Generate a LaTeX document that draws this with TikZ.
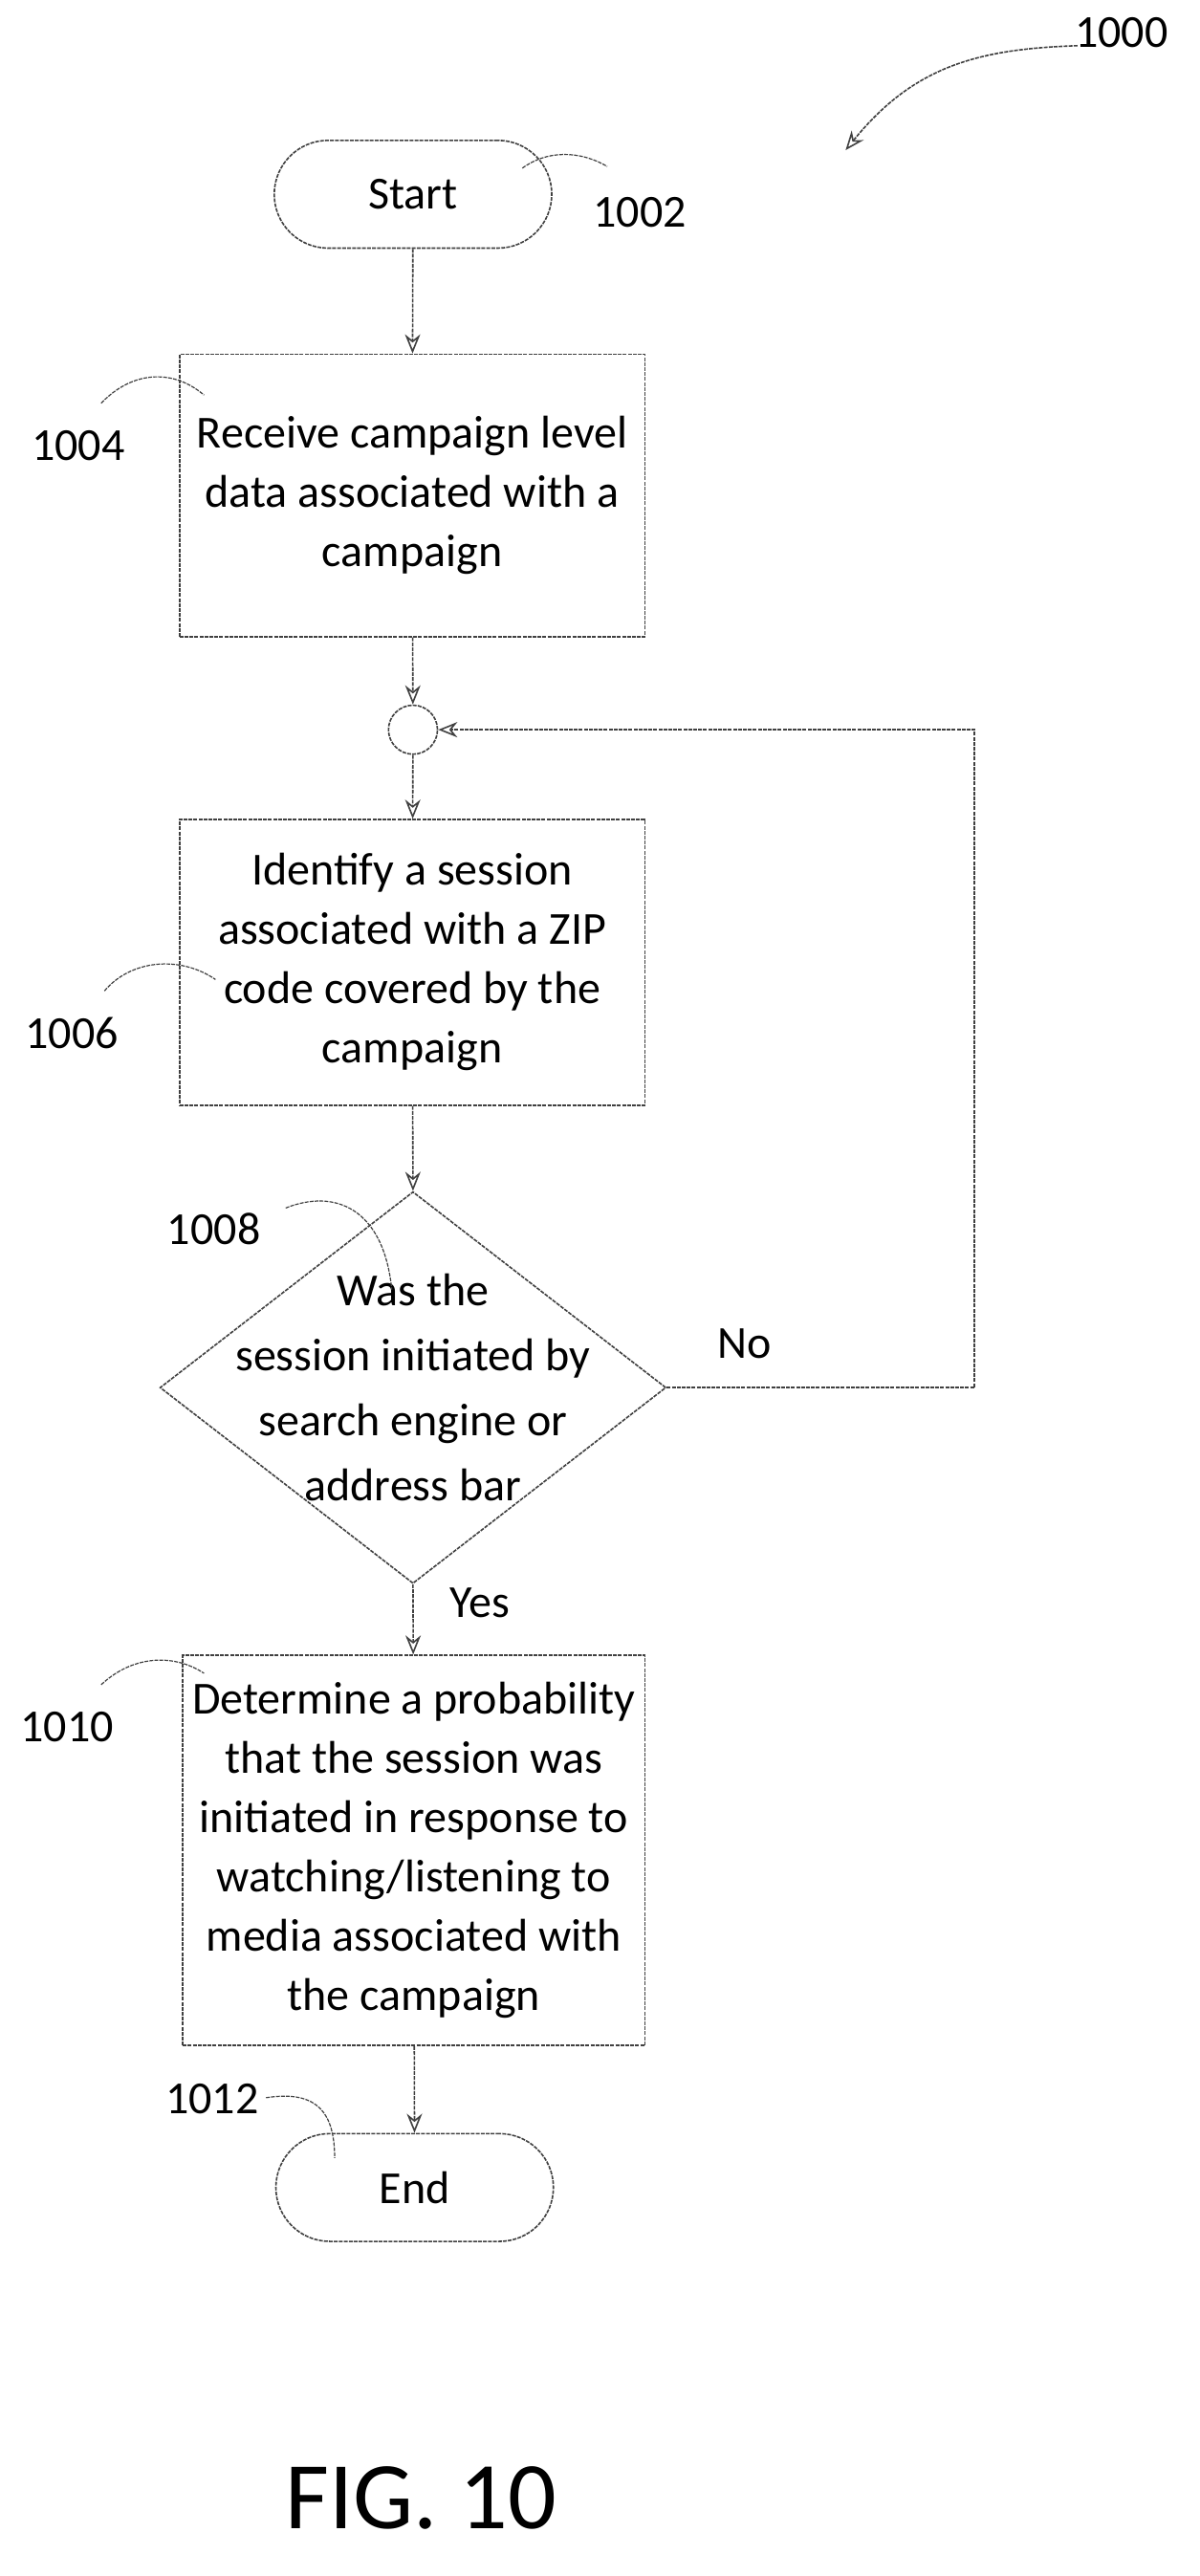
\documentclass[tikz,border=0pt]{standalone}
\usepackage{fontspec}
\setmainfont{Carlito}
\usetikzlibrary{arrows.meta,shapes.geometric}
\begin{document}
\begin{tikzpicture}[x=0.03cm,y=-0.03cm,
  ln/.style={draw=black!75, line width=0.8pt, dash pattern=on 2pt off 0.6pt},
  arr/.style={ln, -{Stealth[length=10pt,width=8pt,open]}},
  box/.style={ln, rectangle, align=center, font=\fontsize{24}{31}\selectfont, inner sep=2pt},
  term/.style={ln, rounded corners=0.99cm, minimum width=5.1cm, minimum height=1.98cm, font=\fontsize{24}{30}\selectfont},
  lab/.style={font=\fontsize{24}{30}\selectfont},
  lead/.style={draw=black!75, line width=0.6pt, dash pattern=on 2pt off 0.6pt}]
\useasboundingbox (0,0) rectangle (735,1578);
\node[term] (start) at (253,119) {Start};
\node[box, minimum width=8.55cm, minimum height=5.19cm] (b1) at (252.5,303.5) {Receive campaign level\\data associated with a\\campaign};
\node[ln, circle, minimum size=0.9cm, inner sep=0pt] (c) at (253,447) {};
\node[box, minimum width=8.55cm, minimum height=5.25cm] (b2) at (252.5,589.5) {Identify a session\\associated with a ZIP\\code covered by the\\campaign};
\node[ln, diamond, aspect=1.29, minimum width=9.3cm, minimum height=7.2cm, inner sep=0pt] (d) at (253,850) {};
\node[align=center, font=\fontsize{24}{34}\selectfont] (dt) at (253,850) {Was the\\session initiated by\\search engine or\\address bar};
\node[box, minimum width=8.49cm, minimum height=7.17cm] (b3) at (253.5,1133.5) {Determine a probability\\that the session was\\initiated in response to\\watching/listening to\\media associated with\\the campaign};
\node[term] (end) at (254,1340) {End};
\coordinate (lp1) at (597,850);
\coordinate (lp2) at (597,447);
\draw[arr] (start) -- (b1);
\draw[arr] (b1) -- (c);
\draw[arr] (c) -- (b2);
\draw[arr] (b2) -- (d.north);
\draw[arr] (d.south) -- (b3);
\draw[arr] (b3) -- (end);
\draw[arr] (d.east) -- (lp1) -- (lp2) -- (c.east);
\node[lab] (no) at (456,823) {No};
\node[lab] (yes) at (294,982) {Yes};
\node[lab] (l1000) at (687,20) {1000};
\node[lab] (l1002) at (392,130) {1002};
\node[lab] (l1004) at (48,273) {1004};
\node[lab] (l1006) at (44,633) {1006};
\node[lab] (l1008) at (131,753) {1008};
\node[lab] (l1010) at (41,1058) {1010};
\node[lab] (l1012) at (130,1286) {1012};
\node[font=\fontsize{50}{60}\selectfont] (fig) at (258,1530) {FIG. 10};
\draw[arr] (660,28) .. controls (600,30) and (560,40) .. (518,92);
\draw[lead] (320,103) .. controls (335,92) and (355,92) .. (372,102);
\draw[lead] (62,247) .. controls (80,228) and (105,225) .. (125,242);
\draw[lead] (64,607) .. controls (80,588) and (110,585) .. (132,600);
\draw[lead] (175,740) .. controls (205,728) and (235,740) .. (240,790);
\draw[lead] (62,1032) .. controls (80,1015) and (105,1012) .. (125,1025);
\draw[lead] (163,1285) .. controls (195,1280) and (205,1295) .. (205,1322);
\end{tikzpicture}
\end{document}
